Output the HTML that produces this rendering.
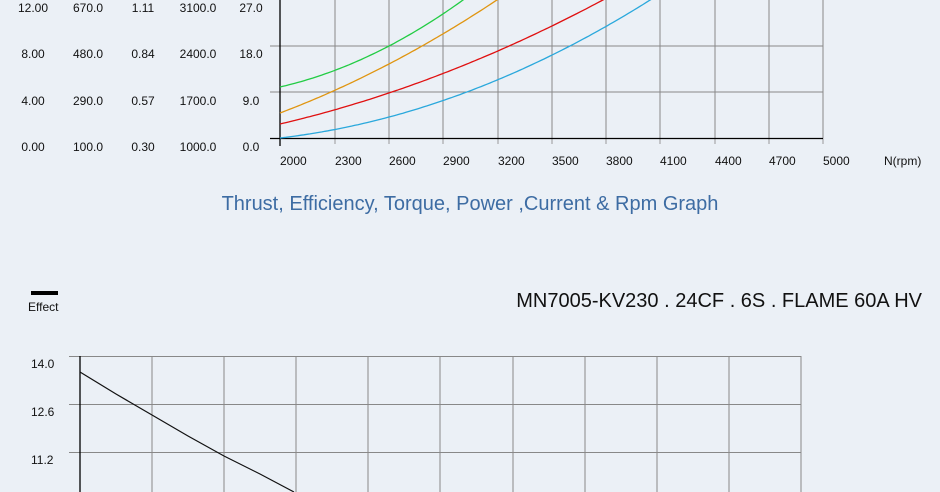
<!DOCTYPE html>
<html><head><meta charset="utf-8"><style>
body{margin:0;background:#ebf0f6;}
svg{display:block;font-family:"Liberation Sans",sans-serif;}
</style></head><body>
<svg id="s" width="940" height="492" viewBox="0 0 940 492">
<rect width="940" height="492" fill="#ebf0f6"/>
<g stroke="#888" stroke-width="1" fill="none">
<path d="M335 0V138M389 0V138M443 0V138M498 0V138M552 0V138M606 0V138M660 0V138M715 0V138M769 0V138M823 0V138"/>
<path d="M270 46H823M270 92H823"/>
<path d="M280 138V144M335 138V144M389 138V144M443 138V144M498 138V144M552 138V144M606 138V144M660 138V144M715 138V144M769 138V144M823 138V144" stroke="#999"/>
</g>
<path d="M280 0V146M270 138.5H823" stroke="#000" stroke-width="1.3" fill="none"/>
<g font-size="12" fill="#111" text-anchor="middle">
<text x="33" y="12">12.00</text><text x="88" y="12">670.0</text><text x="143" y="12">1.11</text><text x="198" y="12">3100.0</text><text x="251" y="12">27.0</text>
<text x="33" y="58">8.00</text><text x="88" y="58">480.0</text><text x="143" y="58">0.84</text><text x="198" y="58">2400.0</text><text x="251" y="58">18.0</text>
<text x="33" y="105">4.00</text><text x="88" y="105">290.0</text><text x="143" y="105">0.57</text><text x="198" y="105">1700.0</text><text x="251" y="105">9.0</text>
<text x="33" y="151">0.00</text><text x="88" y="151">100.0</text><text x="143" y="151">0.30</text><text x="198" y="151">1000.0</text><text x="251" y="151">0.0</text>
</g>
<g font-size="12" fill="#111">
<text x="280" y="165">2000</text><text x="335" y="165">2300</text><text x="389" y="165">2600</text><text x="443" y="165">2900</text><text x="498" y="165">3200</text><text x="552" y="165">3500</text><text x="606" y="165">3800</text><text x="660" y="165">4100</text><text x="715" y="165">4400</text><text x="769" y="165">4700</text><text x="823" y="165">5000</text>
<text x="884" y="165">N(rpm)</text>
</g>
<g id="curves" fill="none" stroke-width="1.3"></g>
<text x="470" y="210" font-size="20" fill="#3d6ca3" text-anchor="middle">Thrust, Efficiency, Torque, Power ,Current &amp; Rpm Graph</text>
<rect x="31" y="291" width="27" height="4" fill="#000"/>
<text x="28" y="311" font-size="12" fill="#111">Effect</text>
<text x="922" y="307" font-size="20" fill="#111" text-anchor="end">MN7005-KV230 . 24CF . 6S . FLAME 60A HV</text>
<g stroke="#888" stroke-width="1" fill="none">
<path d="M69 356.5H801M69 404.5H801M69 452.5H801"/>
<path d="M152 356V492M224 356V492M296 356V492M368 356V492M440 356V492M513 356V492M585 356V492M657 356V492M729 356V492M801 356V492"/>
</g>
<path d="M80 356V492" stroke="#000" stroke-width="1.3"/>
<path d="M80 372L116 394L152 415L188 436L224 456L260 474L294 492" stroke="#111" stroke-width="1.2" fill="none"/>
<g font-size="12" fill="#111">
<text x="31" y="368">14.0</text><text x="31" y="416">12.6</text><text x="31" y="464">11.2</text>
</g>
</svg>
<script>
var c=[["#2aa8dc",138,0.117,0.000691],["#e01010",124,0.234,0.000465],["#e09510",113,0.378,0.000659],["#22cc44",87,0.23,0.00134]];
var g=document.getElementById("curves"),s="";
c.forEach(function(k){var p=[];for(var d=0;d<=400;d+=3){var y=k[1]-k[2]*d-k[3]*d*d;p.push((280+d)+","+y.toFixed(1));if(y<-2)break;}
s+='<polyline stroke="'+k[0]+'" points="'+p.join(" ")+'"/>';});
g.innerHTML=s;
</script>
</body></html>
